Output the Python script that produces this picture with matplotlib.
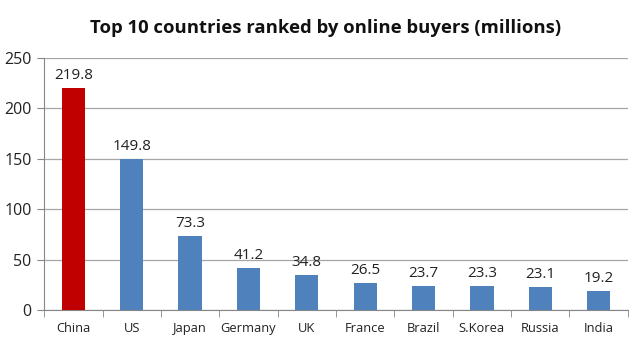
import numpy as np
import matplotlib
matplotlib.use("Agg")
import matplotlib.pyplot as plt

# Datos
paises = ["China", "US", "Japan", "Germany", "UK", "France", "Brazil", "S.Korea", "Russia", "India"]
compradores = [219.8, 149.8, 73.3, 41.2, 34.8, 26.5, 23.7, 23.3, 23.1, 19.2]
colores = ["#C00000"] + ["#4F81BD"] * 9
ticks_y = [0, 50, 100, 150, 200, 250]

plt.rcParams['font.family'] = ['Open Sans', 'DejaVu Sans']

fig = plt.figure(figsize=(6.4, 3.41), dpi=100)
ax = fig.add_axes([0.069, 0.091, 0.912, 0.739])

x = np.arange(len(paises))
ax.bar(x, compradores, width=0.4, color=colores, zorder=3)

for xi, v in zip(x, compradores):
    ax.text(xi, v + 5, f"{v}", ha='center', va='bottom', fontsize=11, color='#222222')

ax.set_xlim(-0.5, len(paises) - 0.5)
ax.set_ylim(0, 250)
ax.set_yticks(ticks_y)
ax.set_yticklabels([str(t) for t in ticks_y], fontsize=11.5, color='#222222')
ax.set_xticks(x)
ax.set_xticklabels(paises, fontsize=9.3, color='#222222')
ax.set_xticks(np.arange(-0.5, len(paises)), minor=True)
ax.tick_params(axis='x', which='major', length=0, pad=9)
ax.tick_params(axis='x', which='minor', length=5, color='#868686', direction='out')
ax.tick_params(axis='y', length=5, color='#868686', pad=4)

ax.grid(axis='y', color='#A6A6A6', linewidth=0.9, zorder=0)
for s in ['top', 'right']:
    ax.spines[s].set_visible(False)
for s in ['left', 'bottom']:
    ax.spines[s].set_color('#868686')

fig.suptitle("Top 10 countries ranked by online buyers (millions)", x=0.508, y=0.945,
             fontsize=13.3, fontweight='bold', color='#111111')

fig.savefig("out.png", dpi=100)
